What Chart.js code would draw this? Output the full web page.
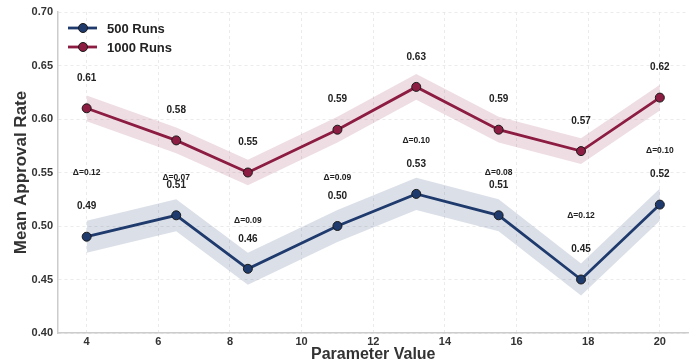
<!DOCTYPE html>
<html>
<head>
<meta charset="utf-8">
<script src="https://cdn.jsdelivr.net/npm/chart.js@4/dist/chart.umd.min.js"></script>
<style>
html, body { margin: 0; padding: 0; background: #fff; }
</style>
</head>
<body>
<canvas id="approvalChart" width="694" height="364"></canvas>
<script>
// values
const paramValues = [4, 6.5, 8.5, 11, 13.2, 15.5, 17.8, 20];
const runs500 = [0.49, 0.51, 0.46, 0.50, 0.53, 0.51, 0.45, 0.52];
const runs1000 = [0.61, 0.58, 0.55, 0.59, 0.63, 0.59, 0.57, 0.62];
const err500 = [0.015, 0.015, 0.015, 0.015, 0.015, 0.015, 0.015, 0.015];
const err1000 = [0.012, 0.012, 0.012, 0.012, 0.012, 0.012, 0.012, 0.012];
const seriesNames = ['500 Runs', '1000 Runs'];

const navy = '#1f3b6d';
const crimson = '#8c1c42';
const fontFamily = "'Liberation Sans', Arial, sans-serif";

function pts(vals) {
    return paramValues.map((x, i) => ({ x: x, y: vals[i] }));
}
function band(vals, errs, sign) {
    return paramValues.map((x, i) => ({ x: x, y: vals[i] + sign * errs[i] }));
}

const lineStyle = {
    borderWidth: 2.8,
    pointRadius: 4.5,
    pointBorderWidth: 1,
    pointBorderColor: '#1a1a1a',
    tension: 0,
    fill: false
};
const bandStyle = {
    borderWidth: 0,
    pointRadius: 0,
    tension: 0
};

// value labels and gap labels
const labelPlugin = {
    id: 'valueLabels',
    afterDatasetsDraw(chart) {
        const ctx = chart.ctx;
        const xs = chart.scales.x, ys = chart.scales.y;
        ctx.save();
        ctx.fillStyle = '#222';
        ctx.textAlign = 'center';
        ctx.textBaseline = 'middle';
        paramValues.forEach((p, i) => {
            const px = xs.getPixelForValue(p);
            ctx.font = 'bold 10px ' + fontFamily;
            ctx.fillText(runs500[i].toFixed(2), px, ys.getPixelForValue(runs500[i]) - 30);
            ctx.fillText(runs1000[i].toFixed(2), px, ys.getPixelForValue(runs1000[i]) - 30);
            ctx.font = 'bold 8.5px ' + fontFamily;
            const mid = (runs500[i] + runs1000[i]) / 2;
            ctx.fillText('\u0394=' + (runs1000[i] - runs500[i]).toFixed(2), px, ys.getPixelForValue(mid));
        });
        ctx.restore();
    }
};

// legend drawn inside the plot, top left
const legendPlugin = {
    id: 'insideLegend',
    afterDraw(chart) {
        const ctx = chart.ctx;
        const colors = [navy, crimson];
        ctx.save();
        seriesNames.forEach((name, i) => {
            const y = 28 + i * 19;
            ctx.strokeStyle = colors[i];
            ctx.lineWidth = 2.8;
            ctx.beginPath();
            ctx.moveTo(68, y);
            ctx.lineTo(97, y);
            ctx.stroke();
            ctx.beginPath();
            ctx.arc(83, y, 4.5, 0, Math.PI * 2);
            ctx.fillStyle = colors[i];
            ctx.fill();
            ctx.lineWidth = 1;
            ctx.strokeStyle = '#1a1a1a';
            ctx.stroke();
            ctx.fillStyle = '#222';
            ctx.font = 'bold 13px ' + fontFamily;
            ctx.textAlign = 'left';
            ctx.textBaseline = 'middle';
            ctx.fillText(name, 107, y + 1);
        });
        ctx.restore();
    }
};

const config = {
    type: 'line',
    data: {
        datasets: [
            Object.assign({ label: seriesNames[0], data: pts(runs500), borderColor: navy, backgroundColor: navy }, lineStyle),
            Object.assign({ label: seriesNames[1], data: pts(runs1000), borderColor: crimson, backgroundColor: crimson }, lineStyle),
            Object.assign({ label: 'hi500', data: band(runs500, err500, 1), fill: '+1', backgroundColor: 'rgba(31,59,109,0.16)' }, bandStyle),
            Object.assign({ label: 'lo500', data: band(runs500, err500, -1), fill: false }, bandStyle),
            Object.assign({ label: 'hi1000', data: band(runs1000, err1000, 1), fill: '+1', backgroundColor: 'rgba(140,28,66,0.15)' }, bandStyle),
            Object.assign({ label: 'lo1000', data: band(runs1000, err1000, -1), fill: false }, bandStyle)
        ]
    },
    options: {
        responsive: false,
        animation: false,
        layout: { padding: { left: 0, right: 2, top: 12, bottom: 0 } },
        plugins: {
            legend: { display: false },
            tooltip: { enabled: false }
        },
        scales: {
            x: {
                type: 'linear',
                min: 3.2,
                max: 20.8,
                afterFit: (s) => { s.height = 31; },
                ticks: {
                    stepSize: 2,
                    includeBounds: false,
                    padding: 2,
                    color: '#333',
                    font: { family: fontFamily, size: 11, weight: 'bold' }
                },
                grid: { color: '#e6e6e6', lineWidth: 0.8, drawTicks: false },
                border: { color: '#cccccc', width: 1.5, dash: [3, 3] },
                title: {
                    display: true,
                    text: 'Parameter Value',
                    color: '#333',
                    padding: { top: 0, bottom: 0 },
                    font: { family: fontFamily, size: 16, weight: 'bold' }
                }
            },
            y: {
                min: 0.4,
                max: 0.7,
                afterFit: (s) => { s.width = 58; },
                ticks: {
                    stepSize: 0.05,
                    padding: 5,
                    color: '#333',
                    font: { family: fontFamily, size: 11, weight: 'bold' },
                    callback: (v) => v.toFixed(2)
                },
                grid: { color: '#e6e6e6', lineWidth: 0.8, drawTicks: false },
                border: { color: '#cccccc', width: 1.5, dash: [3, 3] },
                title: {
                    display: true,
                    text: 'Mean Approval Rate',
                    color: '#333',
                    padding: { top: 11, bottom: 0 },
                    font: { family: fontFamily, size: 17, weight: 'bold' }
                }
            }
        }
    },
    plugins: [labelPlugin, legendPlugin]
};

const ctx = document.getElementById('approvalChart').getContext('2d');
new Chart(ctx, config);
</script>
</body>
</html>
